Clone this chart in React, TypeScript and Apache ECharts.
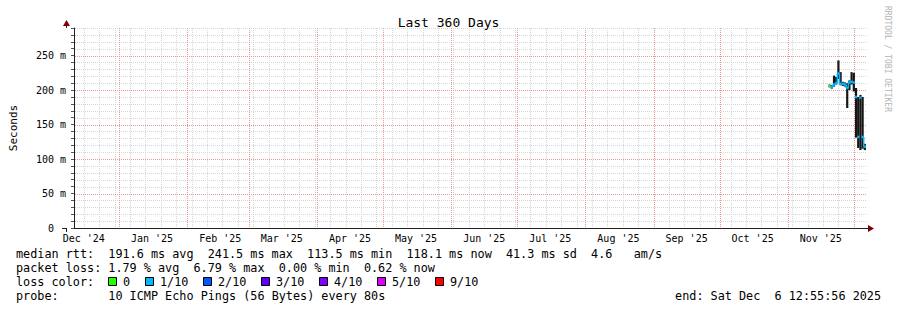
import React, { useEffect, useRef } from 'react';
import * as echarts from 'echarts';

// ---------- time frame ----------
const END_TIME = Date.UTC(2025, 11, 6, 12, 55, 56);
const DAY_MS = 86400000;
const START_TIME = END_TIME - 360 * DAY_MS;

// ---------- axis ticks / labels ----------
const monthStarts = ['2025-01-01', '2025-02-01', '2025-03-01', '2025-04-01', '2025-05-01', '2025-06-01',
  '2025-07-01', '2025-08-01', '2025-09-01', '2025-10-01', '2025-11-01', '2025-12-01'];
const monthLabelDates = ['2024-12-16', '2025-01-16', '2025-02-16', '2025-03-16', '2025-04-16', '2025-05-16',
  '2025-06-16', '2025-07-16', '2025-08-16', '2025-09-16', '2025-10-16', '2025-11-16'];
const monthLabels = ["Dec '24", "Jan '25", "Feb '25", "Mar '25", "Apr '25", "May '25",
  "Jun '25", "Jul '25", "Aug '25", "Sep '25", "Oct '25", "Nov '25"];
const firstWeekLine = '2024-12-16';

const yTickValues = [0, 50, 100, 150, 200, 250];
const yTickLabels = ['0', '50 m', '100 m', '150 m', '200 m', '250 m'];
const yMax = 290;
const yMinorStep = 10;

// ---------- data (ms) ----------
const periodStarts = [
  '2025-11-19T12:00:00Z', '2025-11-20T12:00:00Z', '2025-11-21T12:00:00Z', '2025-11-22T12:00:00Z',
  '2025-11-23T12:00:00Z', '2025-11-24T12:00:00Z', '2025-11-25T12:00:00Z', '2025-11-26T12:00:00Z',
  '2025-11-27T12:00:00Z', '2025-11-28T12:00:00Z', '2025-11-29T12:00:00Z', '2025-11-30T12:00:00Z',
  '2025-12-01T12:00:00Z', '2025-12-02T12:00:00Z', '2025-12-03T12:00:00Z', '2025-12-04T12:00:00Z',
  '2025-12-05T12:00:00Z'];
const smokeLow = [204, 202, 205, 208, 216, 207, 206, 205, 174, 200, 208, 198, 131, 116, 113, 115, 113];
const smokeHigh = [208, 207, 221, 219, 243, 226, 212, 211, 210, 214, 226, 225, 203, 190, 193, 190, 122];
const medianRtt = [206, 204, 208, 210, 224, 209, 209, 208, 203, 211, 212, 211, 190, 132, 189, 132, 118];
const lossTenths = [0, 1, 1, 1, 1, 1, 1, 1, 1, 1, 1, 1, 1, 1, 1, 1, 1];

const lossColors: Record<number, string> = {
  0: '#26ff00', 1: '#00b8ff', 2: '#0059ff', 3: '#5e00ff', 4: '#7e00ff', 5: '#dd00ff', 9: '#ff0000',
};
const lossLegend = ['0', '1/10', '2/10', '3/10', '4/10', '5/10', '9/10'];
const lossLegendKeys = [0, 1, 2, 3, 4, 5, 9];

// ---------- legend texts ----------
const line1 = ['median rtt:', '191.6 ms avg', '241.5 ms max', '113.5 ms min', '118.1 ms now', '41.3 ms sd', '4.6', 'am/s'];
const line1Cols = [0, 13, 27, 41, 55, 69, 81, 87];
const line2 = ['packet loss:', '1.79 % avg', '6.79 % max', '0.00 % min', '0.62 % now'];
const line2Cols = [0, 13, 25, 37, 49];
const probeText = ['probe:', '10 ICMP Echo Pings (56 Bytes) every 80s'];
const endText = ['end: Sat Dec', '6 12:55:56 2025'];

const MONO = 'DejaVu Sans Mono';
const GRAY = '#d6d6d6';
const RED = '#ec9696';
const AXIS = '#212121';
const ARROW = '#7f0000';

function vGridSeries(name: string, times: number[], color: string, z: number) {
  return {
    type: 'custom', name, z, silent: true, clip: false,
    dimensions: ['t'],
    encode: { x: 't' },
    data: times.map((t) => [t]),
    renderItem: (params: any, api: any) => {
      const t = api.value('t');
      const a = api.coord([t, 0]);
      const b = api.coord([t, yMax]);
      const x = Math.round(a[0]) + 0.5;
      return {
        type: 'line',
        shape: { x1: x, y1: Math.round(b[1]), x2: x, y2: Math.round(a[1]) },
        style: { stroke: color, lineWidth: 1, lineDash: [1, 1], fill: null },
      };
    },
  };
}

function hGridSeries(name: string, values: number[], color: string, z: number) {
  return {
    type: 'custom', name, z, silent: true, clip: false,
    dimensions: ['t', 'v'],
    encode: { x: 't', y: 'v' },
    data: values.map((v) => [START_TIME, v]),
    renderItem: (params: any, api: any) => {
      const v = api.value('v');
      const a = api.coord([START_TIME, v]);
      const b = api.coord([END_TIME, v]);
      const y = Math.round(a[1]) + 0.5;
      return {
        type: 'line',
        shape: { x1: Math.round(a[0]) + 1, y1: y, x2: Math.round(b[0]), y2: y },
        style: { stroke: color, lineWidth: 1, lineDash: [1, 1], fill: null },
      };
    },
  };
}

export default function App() {
  const ref = useRef<HTMLDivElement>(null);

  useEffect(() => {
    if (!ref.current) return;
    const chart = echarts.init(ref.current, undefined, { renderer: 'svg' });

    const GL = 66, GT = 28, GW = 800, GH = 200;

    const smokeData = periodStarts.map((s, i) => {
      const t0 = Date.parse(s);
      const t1 = i + 1 < periodStarts.length ? Date.parse(periodStarts[i + 1]) : t0 + DAY_MS;
      return [t0, t1, smokeLow[i], smokeHigh[i]];
    });
    const medianData = periodStarts.map((s, i) => {
      const t0 = Date.parse(s);
      const t1 = i + 1 < periodStarts.length ? Date.parse(periodStarts[i + 1]) : t0 + DAY_MS;
      const prev = i > 0 ? medianRtt[i - 1] : medianRtt[i];
      return [t0, t1, medianRtt[i], prev, lossTenths[i]];
    });

    const weekTimes: number[] = [];
    for (let t = Date.parse(firstWeekLine); t < END_TIME; t += 7 * DAY_MS) weekTimes.push(t);
    const monthTimes = monthStarts.map((m) => Date.parse(m));
    const minorValues: number[] = [];
    for (let v = yMinorStep; v <= yMax; v += yMinorStep) {
      if (yTickValues.indexOf(v) < 0) minorValues.push(v);
    }
    const majorValues = yTickValues.filter((v) => v > 0);

    const txt = (text: string, x: number, y: number, extra: any = {}) => ({
      type: 'text',
      x, y,
      silent: true,
      style: { text, fill: '#000', font: `11.8px "${MONO}"`, verticalAlign: 'middle', align: 'left', ...extra },
    });

    const CW = 7.1;
    const graphics: any[] = [];
    line1.forEach((t, i) => graphics.push(txt(t, 16 + line1Cols[i] * CW, 253.5)));
    line2.forEach((t, i) => graphics.push(txt(t, 16 + line2Cols[i] * CW, 267.5)));
    graphics.push(txt('loss color:', 16, 281.5));
    const sqX = [108, 145, 203, 261, 319, 377, 435];
    lossLegend.forEach((l, i) => {
      graphics.push({
        type: 'rect', silent: true,
        shape: { x: sqX[i] + 0.5, y: 277.5, width: 8, height: 8 },
        style: { fill: lossColors[lossLegendKeys[i]], stroke: '#000', lineWidth: 1 },
      });
      graphics.push(txt(l, sqX[i] + 15, 281.5));
    });
    graphics.push(txt(probeText[0], 16, 295.5));
    graphics.push(txt(probeText[1], 16 + 13 * CW, 295.5));
    graphics.push(txt(endText[0], 881 - 29 * CW, 295.5));
    graphics.push(txt(endText[1], 881 - 15 * CW, 295.5));
    // watermark
    graphics.push({
      type: 'text', x: 887, y: 59, rotation: -Math.PI / 2, silent: true,
      style: { text: 'RRDTOOL / TOBI OETIKER', fill: '#b4b4b4', font: `8px "${MONO}"`, align: 'center', verticalAlign: 'middle' },
    });
    // axis extensions and arrows
    graphics.push({ type: 'line', silent: true, shape: { x1: 62, y1: GT + GH + 0.5, x2: GL, y2: GT + GH + 0.5 }, style: { stroke: AXIS, lineWidth: 1 } });
    graphics.push({ type: 'line', silent: true, shape: { x1: GL + 0.5, y1: GT + GH, x2: GL + 0.5, y2: GT + GH + 4 }, style: { stroke: AXIS, lineWidth: 1 } });
    graphics.push({ type: 'line', silent: true, shape: { x1: GL + 0.5, y1: GT, x2: GL + 0.5, y2: 24 }, style: { stroke: AXIS, lineWidth: 1 } });
    graphics.push({ type: 'line', silent: true, shape: { x1: GL + GW, y1: GT + GH + 0.5, x2: 869, y2: GT + GH + 0.5 }, style: { stroke: AXIS, lineWidth: 1 } });
    graphics.push({ type: 'polygon', silent: true, shape: { points: [[GL + 0.5 - 3.5, 26], [GL + 0.5 + 3.5, 26], [GL + 0.5, 20]] }, style: { fill: ARROW } });
    graphics.push({ type: 'polygon', silent: true, shape: { points: [[868, GT + GH + 0.5 - 3.5], [868, GT + GH + 0.5 + 3.5], [874, GT + GH + 0.5]] }, style: { fill: ARROW } });

    chart.setOption({
      animation: false,
      backgroundColor: '#ffffff',
      title: {
        text: 'Last 360 Days', left: 'center', top: 11,
        textStyle: { fontFamily: MONO, fontSize: 13, fontWeight: 'normal', color: '#000' },
      },
      grid: { left: GL, top: GT, width: GW, height: GH, containLabel: false },
      xAxis: {
        type: 'value', min: START_TIME, max: END_TIME, z: 5,
        axisLine: { show: true, lineStyle: { color: AXIS, width: 1 } },
        axisTick: { show: false },
        splitLine: { show: false },
        axisLabel: {
          customValues: monthLabelDates.map((d) => Date.parse(d)),
          formatter: (v: number) => {
            const i = monthLabelDates.findIndex((d) => Date.parse(d) === v);
            return i >= 0 ? monthLabels[i] : '';
          },
          fontFamily: MONO, fontSize: 10, color: '#000', margin: 5,
        },
      },
      yAxis: {
        type: 'value', min: 0, max: yMax, interval: yMinorStep, z: 5,
        name: 'Seconds', nameLocation: 'middle', nameGap: 55, nameRotate: 90,
        nameTextStyle: { fontFamily: MONO, fontSize: 11, color: '#000' },
        axisLine: { show: true, lineStyle: { color: AXIS, width: 1 } },
        axisTick: { show: true, length: 3, lineStyle: { color: '#555' } },
        splitLine: { show: false },
        axisLabel: {
          fontFamily: MONO, fontSize: 10, color: '#000', margin: 8,
          formatter: (v: number) => {
            const i = yTickValues.indexOf(v);
            if (i < 0) return '';
            return v === 0 ? '{z|' + yTickLabels[i] + '}' : yTickLabels[i];
          },
          rich: { z: { fontFamily: MONO, fontSize: 10, color: '#000', padding: [0, 12, 0, 0] } },
        },
      },
      graphic: graphics,
      series: [
        vGridSeries('week grid', weekTimes, GRAY, 1),
        hGridSeries('minor grid', minorValues, GRAY, 1),
        vGridSeries('month grid', monthTimes, RED, 2),
        hGridSeries('major grid', majorValues, RED, 2),
        {
          type: 'custom', name: 'smoke', z: 3, silent: true,
          dimensions: ['t0', 't1', 'lo', 'hi'],
          encode: { x: ['t0', 't1'], y: ['lo', 'hi'] },
          data: smokeData,
          renderItem: (params: any, api: any) => {
            const a = api.coord([api.value('t0'), api.value('hi')]);
            const b = api.coord([api.value('t1'), api.value('lo')]);
            return {
              type: 'rect',
              shape: { x: a[0], y: a[1], width: b[0] - a[0], height: b[1] - a[1] },
              style: { fill: '#161616' },
            };
          },
        },
        {
          type: 'custom', name: 'median rtt', z: 4, silent: true,
          dimensions: ['t0', 't1', 'med', 'prev', 'loss'],
          encode: { x: ['t0', 't1'], y: ['med', 'prev'] },
          data: medianData,
          renderItem: (params: any, api: any) => {
            const t0 = api.value('t0'), t1 = api.value('t1'), med = api.value('med');
            const prev = api.value('prev'), loss = api.value('loss');
            const color = lossColors[loss] || '#00b8ff';
            const p0 = api.coord([t0, med]);
            const p1 = api.coord([t1, med]);
            const children: any[] = [{
              type: 'line',
              shape: { x1: p0[0], y1: p0[1], x2: p1[0], y2: p1[1] },
              style: { stroke: color, lineWidth: 2.5 },
            }];
            if (Math.abs(prev - med) < 20) {
              const pp = api.coord([t0, prev]);
              children.push({
                type: 'line',
                shape: { x1: pp[0], y1: pp[1], x2: p0[0], y2: p0[1] },
                style: { stroke: color, lineWidth: 1.5 },
              });
            }
            return { type: 'group', children };
          },
        },
      ],
    });

    return () => chart.dispose();
  }, []);

  return <div ref={ref} style={{ position: 'absolute', left: 0, top: 0, width: 897, height: 310 }} />;
}
